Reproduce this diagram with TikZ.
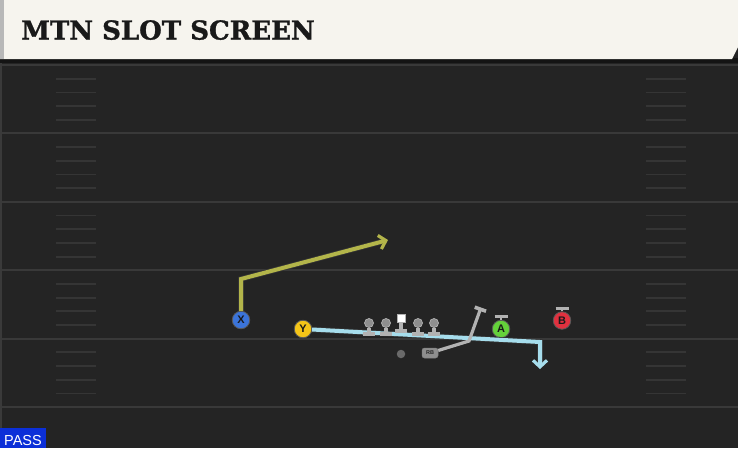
\documentclass[tikz,border=0pt]{standalone}
\usepackage{fontspec}
\setmainfont{DejaVu Serif}
\newfontfamily\titlefnt{DejaVu Serif}[FakeBold=1.2]
\newfontfamily\sansfnt{Liberation Sans}
\usetikzlibrary{arrows.meta}
\definecolor{field}{HTML}{242424}
\definecolor{yardc}{HTML}{393939}
\definecolor{hashc}{HTML}{353535}
\definecolor{edgec}{HTML}{3A3A3A}
\definecolor{cream}{HTML}{F6F4EE}
\definecolor{stripc}{HTML}{B8B8B8}
\definecolor{shadowc}{HTML}{141414}
\definecolor{passblue}{HTML}{0B2FD8}
\definecolor{xblue}{HTML}{3B74D9}
\definecolor{yyellow}{HTML}{F5C518}
\definecolor{agreen}{HTML}{64D13A}
\definecolor{bred}{HTML}{E0313F}
\definecolor{olivec}{HTML}{B3B54A}
\definecolor{lblue}{HTML}{A6DDEC}
\definecolor{lgray}{HTML}{B2B2B2}
\definecolor{headc}{HTML}{8E8E8E}
\definecolor{qbc}{HTML}{6A6A6A}
\tikzset{
  yard/.style={draw=yardc, line width=2pt},
  hashm/.style={draw=hashc, line width=1.8pt},
  player/.style={circle, minimum size=17.5pt, inner sep=0pt, draw=black!65, line width=0.8pt,
    text=black!90, font=\sansfnt\bfseries\fontsize{11}{11}\selectfont},
  route/.style={line width=4pt, preaction={draw=black!80, line width=5.6pt}},
  chev/.style={-{Straight Barb[length=6.5pt,width=14pt,line width=3.2pt]}},
  blockline/.style={draw=lgray, line width=3.2pt, -{Bar[width=12pt,line width=3.6pt]}},
  stem/.style={draw=lgray, line width=2.8pt, -{Bar[width=13pt,line width=3.4pt]}},
  lhead/.style={circle, fill=headc, draw=lgray, line width=0.7pt, minimum size=9pt, inner sep=0pt},
}
\begin{document}
\begin{tikzpicture}[x=1pt,y=-1pt]
\useasboundingbox (0,0) rectangle (738,448);
\fill[field] (0,0) rectangle (738,448);
\fill[edgec] (0,60) rectangle (2,448);
% yard lines
\foreach \yy in {65,133.4,201.8,270.2,338.6,407} \draw[yard] (2,\yy) -- (738,\yy);
% hash marks
\foreach \b in {0,...,4}{
  \foreach \k in {1,...,4}{
    \pgfmathsetmacro{\hy}{65+68.4*\b+13.7*\k}
    \draw[hashm] (56,\hy) -- (96,\hy);
    \draw[hashm] (646,\hy) -- (686,\hy);
  }
}
% banner
\fill[shadowc] (0,58) rectangle (738,63);
\fill[cream] (0,0) -- (738,0) -- (738,47) -- (732,59) -- (0,59) -- cycle;
\fill[stripc] (0,0) rectangle (4,59);
\node[anchor=base west, inner sep=0pt, text=black!90, font=\titlefnt\bfseries\fontsize{26}{26}\selectfont] (title) at (21,39.5) {MTN SLOT SCREEN};
% pass label
\fill[passblue] (0,428) rectangle (46,448);
\node[anchor=base west, inner sep=0pt, text=white, font=\sansfnt\fontsize{14.5}{14.5}\selectfont] (pass) at (4,445) {PASS};
% players (positions)
\node[player, fill=xblue] (X) at (241,320) {X};
\node[player, fill=yyellow] (Y) at (303,329) {Y};
\node[player, fill=agreen] (A) at (501,329) {A};
\node[player, fill=bred] (B) at (562,320.5) {B};
% route coordinates
\coordinate (xc) at (241,279);
\coordinate (xe) at (388,240);
\coordinate (yc) at (540,342);
\coordinate (ye) at (540,369);
% routes
\draw[route, draw=olivec, chev] (X) -- (xc) -- (xe);
\draw[route, draw=lblue, chev] (Y) -- (yc) -- (ye);
% A / B blocks
\coordinate (Ab) at (501,315);
\coordinate (Bb) at (562,306.5);
\draw[stem] (A) -- (Ab);
\draw[stem] (B) -- (Bb);
% offensive line
\foreach \i/\x in {1/369,2/386,4/418,5/434}{
  \coordinate (Lb\i) at (\x,336);
  \node[lhead] (L\i) at (\x,323) {};
  \draw[blockline] (L\i) -- (Lb\i);
}
\node[fill=white, draw=lgray, line width=0.5pt, minimum size=8.5pt, inner sep=0pt] (C) at (401,318) {};
\coordinate (Cb) at (401,333);
\draw[blockline] (C) -- (Cb);
% backs
\node[circle, fill=qbc, minimum size=8.5pt, inner sep=0pt] (QB) at (401,354) {};
\node[rounded corners=2.5pt, fill=headc, draw=black!50, line width=0.5pt, minimum width=16pt, minimum height=10pt, inner sep=0pt,
  text=black!85, font=\sansfnt\bfseries\fontsize{5.5}{5.5}\selectfont] (RB) at (430,353) {RB};
\coordinate (rc) at (469,341);
\coordinate (re) at (481,307.5);
\draw[blockline] (RB) -- (rc) -- (re);
\end{tikzpicture}
\end{document}
